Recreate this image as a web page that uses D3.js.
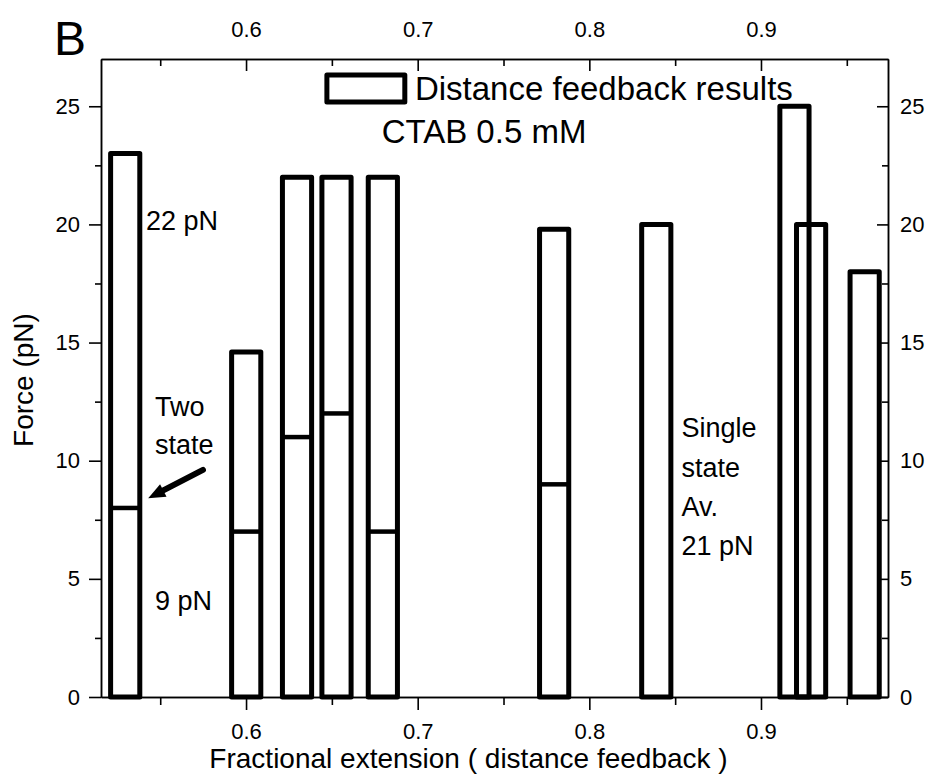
<!DOCTYPE html>
<html>
<head>
<meta charset="utf-8">
<script src="https://cdn.jsdelivr.net/npm/d3@7"></script>
<style>
  body { margin: 0; background: #fff; }
  text { font-family: "Liberation Sans", Arial, sans-serif; fill: #000; }
</style>
</head>
<body>
<script>
// bar centres (fractional extension), bar force and lower (two-state) force
var barCenters = [0.5296, 0.6001, 0.6297, 0.6527, 0.6797, 0.7795, 0.8390, 0.9195, 0.9292, 0.9604];
var barForces = [23, 14.6, 22, 22, 22, 19.8, 20, 25, 20, 18];
var lowerForces = [8, 7, 11, 12, 7, 9, null, null, null, null];
var barWidth = 0.017;

var xMajor = [0.6, 0.7, 0.8, 0.9];
var xMinor = [0.55, 0.65, 0.75, 0.85, 0.95];
var yMajor = [0, 5, 10, 15, 20, 25];
var yMinor = [2.5, 7.5, 12.5, 17.5, 22.5];

var width = 928, height = 774;
var plotLeft = 101, plotRight = 888, plotTop = 59, plotBottom = 697;

var svg = d3.select("body").append("svg")
    .attr("width", width)
    .attr("height", height);

var x = d3.scaleLinear().domain([0.5155, 0.974]).range([plotLeft, plotRight]);
var y = d3.scaleLinear().domain([0, 27]).range([plotBottom, plotTop]);

function styleAxis(g) {
    g.attr("font-size", 22).attr("font-family", "Liberation Sans, Arial, sans-serif");
    g.selectAll("path.domain").attr("stroke", "#000").attr("stroke-width", 1.5);
    g.selectAll(".tick line").attr("stroke", "#000").attr("stroke-width", 1.6);
    g.selectAll(".tick text").attr("fill", "#000");
}

// left axis
svg.append("g").attr("transform", "translate(" + plotLeft + ",0)")
    .call(d3.axisLeft(y).tickValues(yMajor).tickSizeInner(12).tickSizeOuter(0).tickPadding(9))
    .call(styleAxis);
svg.append("g").attr("transform", "translate(" + plotLeft + ",0)")
    .call(d3.axisLeft(y).tickValues(yMinor).tickSizeInner(6).tickSizeOuter(0).tickFormat(""))
    .call(styleAxis);

// right axis (ticks inward)
svg.append("g").attr("transform", "translate(" + plotRight + ",0)")
    .call(d3.axisRight(y).tickValues(yMajor).tickSizeInner(-11).tickSizeOuter(0).tickPadding(12))
    .call(styleAxis);
svg.append("g").attr("transform", "translate(" + plotRight + ",0)")
    .call(d3.axisRight(y).tickValues(yMinor).tickSizeInner(-6).tickSizeOuter(0).tickFormat(""))
    .call(styleAxis);

// bottom axis
svg.append("g").attr("transform", "translate(0," + plotBottom + ")")
    .call(d3.axisBottom(x).tickValues(xMajor).tickSizeInner(13).tickSizeOuter(0).tickPadding(13).tickFormat(d3.format(".1f")))
    .call(styleAxis);
svg.append("g").attr("transform", "translate(0," + plotBottom + ")")
    .call(d3.axisBottom(x).tickValues(xMinor).tickSizeInner(8).tickSizeOuter(0).tickFormat(""))
    .call(styleAxis);

// top axis (ticks inward)
svg.append("g").attr("transform", "translate(0," + plotTop + ")")
    .call(d3.axisTop(x).tickValues(xMajor).tickSizeInner(-12).tickSizeOuter(0).tickPadding(22).tickFormat(d3.format(".1f")))
    .call(styleAxis);
svg.append("g").attr("transform", "translate(0," + plotTop + ")")
    .call(d3.axisTop(x).tickValues(xMinor).tickSizeInner(-7).tickSizeOuter(0).tickFormat(""))
    .call(styleAxis);

// bars
var bars = svg.append("g");
bars.selectAll("rect")
    .data(barCenters)
    .enter()
    .append("rect")
    .attr("x", function (d) { return x(d - barWidth / 2); })
    .attr("width", function (d) { return x(d + barWidth / 2) - x(d - barWidth / 2); })
    .attr("y", function (d, i) { return y(barForces[i]); })
    .attr("height", function (d, i) { return y(0) - y(barForces[i]); })
    .attr("fill", "none")
    .attr("stroke", "#000")
    .attr("stroke-width", 5)
    .attr("stroke-linejoin", "round");

bars.selectAll("line")
    .data(barCenters.filter(function (d, i) { return lowerForces[i] != null; }))
    .enter()
    .append("line")
    .attr("x1", function (d) { return x(d - barWidth / 2); })
    .attr("x2", function (d) { return x(d + barWidth / 2); })
    .attr("y1", function (d) { return y(lowerForces[barCenters.indexOf(d)]); })
    .attr("y2", function (d) { return y(lowerForces[barCenters.indexOf(d)]); })
    .attr("stroke", "#000")
    .attr("stroke-width", 4.5);

// legend
svg.append("rect")
    .attr("x", x(0.6471)).attr("y", y(26.32))
    .attr("width", x(0.6925) - x(0.6471)).attr("height", y(25.18) - y(26.32))
    .attr("fill", "#fff").attr("stroke", "#000").attr("stroke-width", 5)
    .attr("stroke-linejoin", "round");
svg.append("text").attr("x", x(0.6984)).attr("y", y(25.27))
    .style("font-size", "33px").text("Distance feedback results");
svg.append("text").attr("x", x(0.6790)).attr("y", y(23.45))
    .style("font-size", "33px").text("CTAB 0.5 mM");

// annotations
function note(t, xv, yv) {
    svg.append("text").attr("x", x(xv)).attr("y", y(yv)).style("font-size", "27px").text(t);
}
note("22 pN", 0.5417, 19.76);
note("Two", 0.5470, 11.89);
note("state", 0.5470, 10.28);
note("9 pN", 0.5470, 3.68);
note("Single", 0.8537, 11.0);
note("state", 0.8537, 9.31);
note("Av.", 0.8537, 7.66);
note("21 pN", 0.8537, 6.01);

// arrow pointing at the two-state step
var ax0 = x(0.5749), ay0 = y(9.61), ax1 = x(0.5430), ay1 = y(8.41);
var ang = Math.atan2(ay1 - ay0, ax1 - ax0);
var headLen = 17, headW = 7;
var bx = ax1 - headLen * Math.cos(ang), by = ay1 - headLen * Math.sin(ang);
svg.append("line")
    .attr("x1", ax0).attr("y1", ay0).attr("x2", bx).attr("y2", by)
    .attr("stroke", "#000").attr("stroke-width", 6).attr("stroke-linecap", "round");
svg.append("path")
    .attr("d", "M" + ax1 + "," + ay1 +
        "L" + (bx + headW * Math.sin(ang)) + "," + (by - headW * Math.cos(ang)) +
        "L" + (bx - headW * Math.sin(ang)) + "," + (by + headW * Math.cos(ang)) + "Z")
    .attr("fill", "#000");

// axis titles
svg.append("text")
    .attr("x", (plotLeft + plotRight) / 2 - 26).attr("y", 768)
    .attr("text-anchor", "middle")
    .style("font-size", "28px")
    .text("Fractional extension ( distance feedback )");

svg.append("text")
    .attr("transform", "translate(33,380) rotate(-90)")
    .attr("text-anchor", "middle")
    .style("font-size", "28px")
    .text("Force (pN)");

svg.append("text")
    .attr("x", 54).attr("y", 55)
    .style("font-size", "48px")
    .text("B");
</script>
</body>
</html>
